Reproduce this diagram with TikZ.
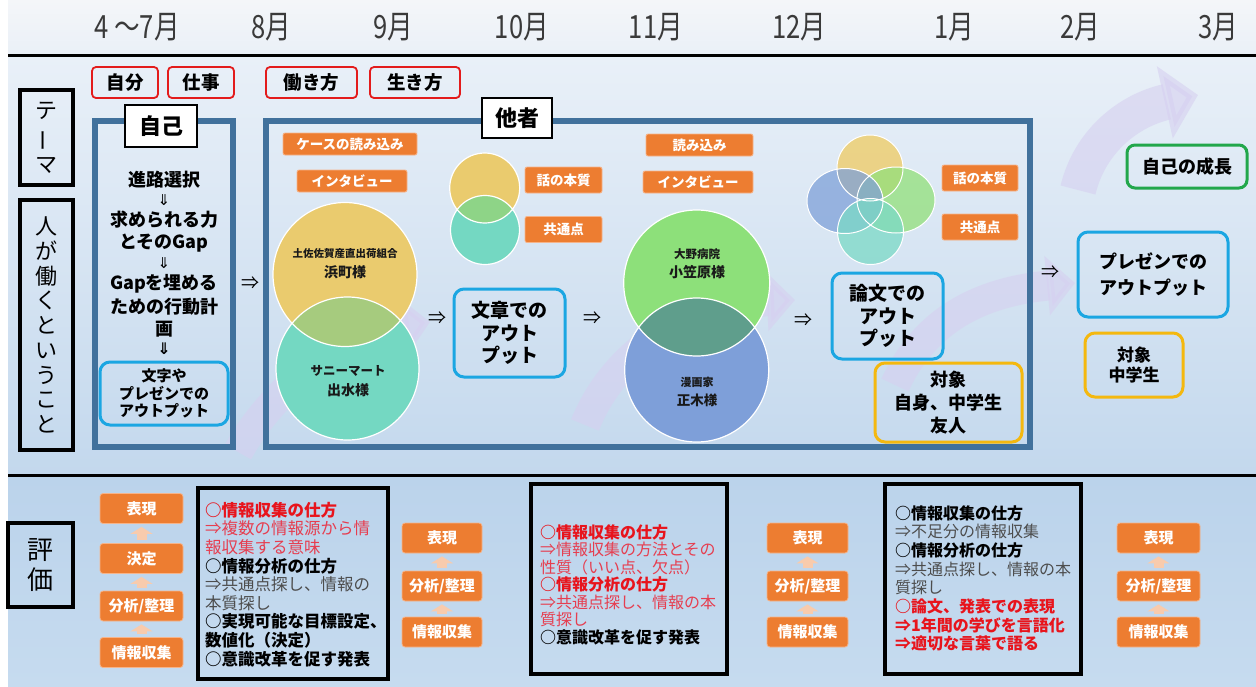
\documentclass[tikz,border=0pt]{standalone}
\usepackage{fontspec}
\setmainfont{Noto Sans CJK JP}
\newfontfamily\monthfont{Noto Sans CJK JP}[FakeStretch=0.8]
\newfontfamily\djv{DejaVu Sans}
\usetikzlibrary{arrows.meta}
\definecolor{tagred}{HTML}{E31B1B}
\definecolor{framebl}{HTML}{41719C}
\definecolor{orng}{HTML}{ED7D31}
\definecolor{orngedge}{HTML}{F6B48A}
\definecolor{paleor}{HTML}{F8CBAD}
\definecolor{cyanb}{HTML}{1BA6E2}
\definecolor{yelb}{HTML}{F4B80F}
\definecolor{grnb}{HTML}{22A74B}
\definecolor{redt}{HTML}{E8141C}
\definecolor{pinkt}{HTML}{E63E50}
\definecolor{grayt}{HTML}{4D4D4D}
\definecolor{lav}{HTML}{D6D0F0}
\definecolor{hdtop}{HTML}{F4F6F9}
\definecolor{hdbot}{HTML}{EAF0F7}
\definecolor{mntop}{HTML}{E9F0F8}
\definecolor{mnbot}{HTML}{C3D8ED}
\definecolor{bttop}{HTML}{BBD3EB}
\definecolor{btbot}{HTML}{C6DBEF}
\definecolor{monthc}{HTML}{3A3A3A}
\definecolor{cyel}{HTML}{EACB6E}
\definecolor{ctea}{HTML}{74D8C2}
\definecolor{cyt}{HTML}{A6CB7E}
\definecolor{csyt}{HTML}{8ED487}
\definecolor{cgrn}{HTML}{8DE07A}
\definecolor{cblu}{HTML}{7E9FD9}
\definecolor{cgb}{HTML}{5F9E8C}
\definecolor{vyel}{HTML}{EECD6B}
\definecolor{vblu}{HTML}{7FA1D8}
\definecolor{vgrn}{HTML}{92E07A}
\definecolor{vtea}{HTML}{7BD9C6}
\begin{document}
\begin{tikzpicture}[x=1pt,y=-1pt,
  redtag/.style={draw=tagred, line width=1.8pt, rounded corners=4pt, minimum height=31pt, inner sep=0pt, font=\fontsize{18.5}{20}\selectfont\bfseries},
  frm/.style={draw=framebl, line width=6pt, inner sep=0pt},
  lbl/.style={draw=black, fill=white, line width=2.2pt, inner sep=0pt, font=\fontsize{22}{24}\selectfont\bfseries},
  vertbx/.style={draw=black, line width=3.5pt, inner sep=0pt, align=center},
  obox/.style={fill=orng, draw=orngedge, line width=0.8pt, rounded corners=2pt, text=white, inner sep=0pt, minimum height=22pt, font=\fontsize{13.5}{15}\selectfont\bfseries},
  stepbox/.style={fill=orng, draw=orngedge, line width=0.8pt, rounded corners=3pt, text=white, inner sep=0pt, minimum height=30pt, font=\fontsize{15}{16}\selectfont\bfseries},
  uparr/.style={draw=paleor, line width=10pt, -{Triangle[length=7pt,width=22pt]}, shorten <=3pt, shorten >=3pt},
  bluebx/.style={draw=cyanb, line width=3pt, rounded corners=10pt, inner sep=0pt, align=center},
  yelbx/.style={draw=yelb, line width=3pt, rounded corners=10pt, inner sep=0pt, align=center},
  grnbx/.style={draw=grnb, line width=3pt, rounded corners=8pt, inner sep=0pt, align=center},
  blkbx/.style={draw=black, line width=3.5pt, inner sep=0pt},
  monthtxt/.style={font=\monthfont\fontsize{32}{34}\selectfont, text=monthc, inner sep=0pt},
  selftxt/.style={font=\fontsize{18}{20}\selectfont\bfseries, inner sep=0pt},
  dnarr/.style={font=\djv\fontsize{15}{16}\selectfont, inner sep=0pt},
  rtarr/.style={font=\fontsize{18}{20}\selectfont, inner sep=0pt},
  circtxt/.style={inner sep=0pt, text=black!90},
  growarr/.style={draw=lav, line width=30pt, -{Triangle[length=28pt,width=58pt]}, opacity=0.6},
  lnred/.style={anchor=west, inner sep=0pt, text=redt},
  lnpink/.style={anchor=west, inner sep=0pt, text=pinkt},
  lnblk/.style={anchor=west, inner sep=0pt, text=black},
  lngray/.style={anchor=west, inner sep=0pt, text=grayt}
]
\useasboundingbox (0,0) rectangle (1256,686);
% backgrounds
\fill[white] (0,0) rectangle (1256,686);
\shade[top color=hdtop, bottom color=hdbot] (8,0) rectangle (1256,54);
\shade[top color=mntop, bottom color=mnbot] (8,56) rectangle (1256,475);
\shade[top color=bttop, bottom color=btbot] (8,476) rectangle (1256,686);
\draw[line width=3pt] (8,55.5) -- (1256,55.5);
\draw[line width=3pt] (8,475.5) -- (1256,475.5);

% months
\node[monthtxt] (m4) at (137,27) {4 ～7月};
\node[monthtxt] (m8) at (271,27) {8月};
\node[monthtxt] (m9) at (393,27) {9月};
\node[monthtxt] (m10) at (522,27) {10月};
\node[monthtxt] (m11) at (656,27) {11月};
\node[monthtxt] (m12) at (799,27) {12月};
\node[monthtxt] (m1) at (954,27) {1月};
\node[monthtxt] (m2) at (1080,27) {2月};
\node[monthtxt] (m3) at (1218,27) {3月};

% growth arrows (decoration)
\begin{scope}[transparency group]
\draw[growarr] (238,452) .. controls (275,385) and (345,335) .. (430,322);
\end{scope}
\begin{scope}[transparency group]
\draw[growarr] (585,425) .. controls (615,350) and (690,305) .. (795,300);
\end{scope}
\begin{scope}[transparency group]
\draw[growarr] (895,385) .. controls (925,320) and (980,292) .. (1075,283);
\end{scope}
\begin{scope}[transparency group]
\draw[growarr, line width=36pt, -{Triangle[length=34pt,width=72pt]}] (1078,190) .. controls (1090,140) and (1130,110) .. (1198,95);
\end{scope}

% frames
\node[frm, minimum width=138pt, minimum height=326pt] (selfF) at (164,284) {};
\node[frm, minimum width=764pt, minimum height=326pt] (otherF) at (648,284) {};
\node[lbl, minimum width=72pt, minimum height=42pt] (selfL) at (161,126) {自己};
\node[lbl, minimum width=70pt, minimum height=40pt] (otherL) at (517,118) {他者};

% red tags
\node[redtag, minimum width=66pt] (t1) at (125,82.5) {自分};
\node[redtag, minimum width=66pt] (t2) at (201,82.5) {仕事};
\node[redtag, minimum width=91pt] (t3) at (311.5,82.5) {働き方};
\node[redtag, minimum width=90pt] (t4) at (415,82.5) {生き方};

% vertical boxes
\node[vertbx, minimum width=53pt, minimum height=95pt, font=\fontsize{22}{27}\selectfont] (theme) at (46.5,137.5) {テ\\\rotatebox[origin=c]{90}{ー}\\マ};
\node[vertbx, minimum width=53pt, minimum height=250pt, font=\fontsize{22}{24.75}\selectfont] (human) at (46.5,325) {人\\が\\働\\く\\と\\い\\う\\こ\\と};
\node[vertbx, minimum width=65pt, minimum height=84pt, font=\fontsize{26}{30}\selectfont] (eval) at (40.5,565) {評\\価};

% self frame content
\node[selftxt] (s1) at (164,180) {進路選択};
\node[dnarr] (d1) at (164,200) {⇓};
\node[selftxt] (s2) at (164,220) {求められる力};
\node[selftxt] (s3) at (164,243) {とそのGap};
\node[dnarr] (d2) at (164,263) {⇓};
\node[selftxt] (s4) at (164,284) {Gapを埋める};
\node[selftxt] (s5) at (164,307) {ための行動計};
\node[selftxt] (s6) at (164,329) {画};
\node[dnarr, font=\djv\bfseries\fontsize{16}{17}\selectfont] (d3) at (164,349) {⇓};
\node[bluebx, minimum width=128pt, minimum height=63pt, font=\fontsize{15}{17.5}\selectfont\bfseries] (sout) at (164,393.5) {文字や\\プレゼンでの\\アウトプット};

% circles (left pair)
\fill[cyel] (345,274.5) circle[radius=72];
\fill[ctea] (347.5,368.5) circle[radius=71.5];
\begin{scope}
  \clip (345,274.5) circle[radius=72];
  \fill[cyt] (347.5,368.5) circle[radius=71.5];
\end{scope}
\draw[white, line width=1.2pt] (345,274.5) circle[radius=72] (347.5,368.5) circle[radius=71.5];
% small pair
\fill[cyel] (484.7,188) circle[radius=35];
\fill[ctea] (485,230) circle[radius=34.5];
\begin{scope}
  \clip (484.7,188) circle[radius=35];
  \fill[csyt] (485,230) circle[radius=34.5];
\end{scope}
\draw[white, line width=1.2pt] (484.7,188) circle[radius=35] (485,230) circle[radius=34.5];
% right pair
\fill[cgrn] (696.7,283) circle[radius=73];
\fill[cblu] (696.7,370) circle[radius=72];
\begin{scope}
  \clip (696.7,283) circle[radius=73];
  \fill[cgb] (696.7,370) circle[radius=72];
\end{scope}
\draw[white, line width=1.2pt] (696.7,283) circle[radius=73] (696.7,370) circle[radius=72];
% four-way venn
\fill[vyel, opacity=.8] (870,168) circle[radius=33];
\fill[vgrn, opacity=.75] (896,200) ellipse[x radius=39, y radius=33];
\fill[vblu, opacity=.75] (845,201) ellipse[x radius=38, y radius=32.5];
\fill[vtea, opacity=.75] (870.5,231.5) circle[radius=33];
\draw[white, line width=1pt] (870,168) circle[radius=33] (896,200) ellipse[x radius=39, y radius=33] (845,201) ellipse[x radius=38, y radius=32.5] (870.5,231.5) circle[radius=33];

% circle texts
\node[circtxt, font=\fontsize{10.5}{12}\selectfont\bfseries] (ct1) at (345,254) {土佐佐賀産直出荷組合};
\node[circtxt, font=\fontsize{14}{16}\selectfont\bfseries] (ct2) at (345,272.5) {浜町様};
\node[circtxt, font=\fontsize{12.5}{14}\selectfont\bfseries] (ct3) at (348,371) {サニーマート};
\node[circtxt, font=\fontsize{14}{16}\selectfont\bfseries] (ct4) at (348,390) {出水様};
\node[circtxt, font=\fontsize{11.5}{13}\selectfont\bfseries] (ct5) at (697,254) {大野病院};
\node[circtxt, font=\fontsize{14}{16}\selectfont\bfseries] (ct6) at (697,272.5) {小笠原様};
\node[circtxt, font=\fontsize{11}{13}\selectfont\bfseries] (ct7) at (697,382) {漫画家};
\node[circtxt, font=\fontsize{13.5}{15}\selectfont\bfseries] (ct8) at (697,400) {正木様};

% orange labels
\node[obox, minimum width=134pt] (o1) at (350,144) {ケースの読み込み};
\node[obox, minimum width=110pt] (o2) at (352,181) {インタビュー};
\node[obox, minimum width=77pt, minimum height=26pt] (o3) at (563.5,180) {話の本質};
\node[obox, minimum width=77pt, minimum height=26pt] (o4) at (563.5,229.5) {共通点};
\node[obox, minimum width=107pt] (o5) at (699.5,145) {読み込み};
\node[obox, minimum width=110pt] (o6) at (698,182) {インタビュー};
\node[obox, minimum width=76pt, minimum height=26pt] (o7) at (980,178) {話の本質};
\node[obox, minimum width=76pt, minimum height=26pt] (o8) at (980,227) {共通点};

% arrows as text
\node[rtarr] (r1) at (250,283) {⇒};
\node[rtarr] (r2) at (437,318) {⇒};
\node[rtarr] (r3) at (592,318) {⇒};
\node[rtarr] (r4) at (803,320) {⇒};
\node[rtarr] (r5) at (1050,272) {⇒};

% output boxes
\node[bluebx, minimum width=111pt, minimum height=88pt, font=\fontsize{19}{22.5}\selectfont\bfseries] (out1) at (509.5,333) {文章での\\アウト\\プット};
\node[bluebx, minimum width=111pt, minimum height=86pt, font=\fontsize{19}{22.5}\selectfont\bfseries] (out2) at (887.5,316) {論文での\\アウト\\プット};
\node[bluebx, minimum width=150pt, minimum height=85pt, font=\fontsize{18}{26}\selectfont\bfseries] (out3) at (1153,274.5) {プレゼンでの\\アウトプット};
\node[yelbx, minimum width=147pt, minimum height=79pt, font=\fontsize{18}{23}\selectfont\bfseries] (tg1) at (948.5,402.5) {対象\\自身、中学生\\友人};
\node[yelbx, minimum width=98pt, minimum height=64pt, font=\fontsize{17}{20}\selectfont\bfseries] (tg2) at (1134,365) {対象\\中学生};
\node[grnbx, minimum width=120pt, minimum height=43pt, font=\fontsize{18}{20}\selectfont\bfseries] (growth) at (1187,166.5) {自己の成長};

% bottom: step columns
\node[stepbox, minimum width=83pt] (a1) at (141.5,508.5) {表現};
\node[stepbox, minimum width=83pt] (a2) at (141.5,558.5) {決定};
\node[stepbox, minimum width=83pt] (a3) at (141.5,606) {分析/整理};
\node[stepbox, minimum width=83pt] (a4) at (141.5,652.5) {情報収集};
\draw[uparr] (a4.north) -- (a3.south);
\draw[uparr] (a3.north) -- (a2.south);
\draw[uparr] (a2.north) -- (a1.south);

\node[stepbox, minimum width=80pt] (b1) at (442,538) {表現};
\node[stepbox, minimum width=80pt] (b2) at (442,586) {分析/整理};
\node[stepbox, minimum width=80pt] (b3) at (442,632) {情報収集};
\draw[uparr] (b3.north) -- (b2.south);
\draw[uparr] (b2.north) -- (b1.south);

\node[stepbox, minimum width=81pt] (c1) at (807.5,538) {表現};
\node[stepbox, minimum width=81pt] (c2) at (807.5,586) {分析/整理};
\node[stepbox, minimum width=81pt] (c3) at (807.5,632) {情報収集};
\draw[uparr] (c3.north) -- (c2.south);
\draw[uparr] (c2.north) -- (c1.south);

\node[stepbox, minimum width=83pt] (e1) at (1158.5,538) {表現};
\node[stepbox, minimum width=83pt] (e2) at (1158.5,586) {分析/整理};
\node[stepbox, minimum width=83pt] (e3) at (1158.5,632) {情報収集};
\draw[uparr] (e3.north) -- (e2.south);
\draw[uparr] (e2.north) -- (e1.south);

% bottom: text boxes
\node[blkbx, minimum width=190pt, minimum height=191pt] (box1) at (293,583.5) {};
\node[blkbx, minimum width=196pt, minimum height=190pt] (box2) at (629,579) {};
\node[blkbx, minimum width=196pt, minimum height=190pt] (box3) at (983,579) {};

\begin{scope}[font=\fontsize{16.5}{18}\selectfont]
\node[lnred] (p1) at (205,510) {\bfseries ○情報収集の仕方};
\node[lnpink] (p2) at (205,528.6) {⇒複数の情報源から情};
\node[lnpink] (p3) at (205,547.2) {報収集する意味};
\node[lnblk] (p4) at (205,565.8) {\bfseries ○情報分析の仕方};
\node[lngray] (p5) at (205,584.4) {⇒共通点探し、情報の};
\node[lngray] (p6) at (205,603) {本質探し};
\node[lnblk] (p7) at (205,621.6) {\bfseries ○実現可能な目標設定、};
\node[lnblk] (p8) at (205,640.2) {\bfseries 数値化（決定）};
\node[lnblk] (p9) at (205,658.8) {\bfseries ○意識改革を促す発表};
\end{scope}

\begin{scope}[font=\fontsize{16}{18}\selectfont]
\node[lnred] (q1) at (540,532) {\bfseries ○情報収集の仕方};
\node[lnpink] (q2) at (540,549.5) {⇒情報収集の方法とその};
\node[lnpink] (q3) at (540,567) {性質（いい点、欠点）};
\node[lnred] (q4) at (540,584.5) {\bfseries ○情報分析の仕方};
\node[lnpink] (q5) at (540,602) {⇒共通点探し、情報の本};
\node[lnpink] (q6) at (540,619.5) {質探し};
\node[lnblk] (q7) at (540,637) {\bfseries ○意識改革を促す発表};
\end{scope}

\begin{scope}[font=\fontsize{16}{18}\selectfont]
\node[lnblk] (w1) at (895,513) {\bfseries ○情報収集の仕方};
\node[lngray] (w2) at (895,531.7) {⇒不足分の情報収集};
\node[lnblk] (w3) at (895,550.4) {\bfseries ○情報分析の仕方};
\node[lngray] (w4) at (895,569.1) {⇒共通点探し、情報の本};
\node[lngray] (w5) at (895,587.8) {質探し};
\node[lnred] (w6) at (895,606.5) {\bfseries ○論文、発表での表現};
\node[lnred] (w7) at (895,625.2) {\bfseries ⇒1年間の学びを言語化};
\node[lnred] (w8) at (895,643.9) {\bfseries ⇒適切な言葉で語る};
\end{scope}
\end{tikzpicture}
\end{document}
